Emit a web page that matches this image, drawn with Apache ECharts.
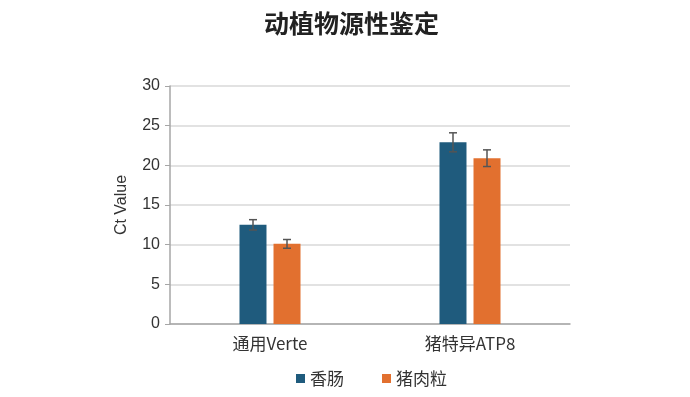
<!DOCTYPE html>
<html>
<head>
<meta charset="utf-8">
<script src="https://cdn.jsdelivr.net/npm/echarts@6/dist/echarts.min.js"></script>
<style>
html, body { margin: 0; padding: 0; background: #fff; }
#main { width: 690px; height: 397px; }
</style>
</head>
<body>
<div id="main"></div>
<script>
var categories = ['通用Verte', '猪特异ATP8'];
var seriesNames = ['香肠', '猪肉粒'];
var sausage = [12.5, 22.9];
var sausageErr = [0.65, 1.2];
var porkDice = [10.1, 20.9];
var porkDiceErr = [0.55, 1.05];
var yTicks = [0, 5, 10, 15, 20, 25, 30];

var colors = ['#1f5b7d', '#e2702f'];
var barW = 27;
var offsets = [-17, 17];

//误差线（custom series）
function errorSeries(vals, errs, idx) {
    var data = vals.map(function (v, i) { return [i, v - errs[i], v + errs[i]]; });
    return {
        type: 'custom',
        name: seriesNames[idx] + '_err',
        z: 10,
        silent: true,
        renderItem: function (params, api) {
            var lo = api.coord([api.value(0), api.value(1)]);
            var hi = api.coord([api.value(0), api.value(2)]);
            var x = lo[0] + offsets[idx];
            var cap = 4;
            var st = { stroke: '#555', lineWidth: 1.5 };
            return {
                type: 'group',
                children: [
                    { type: 'line', shape: { x1: x, y1: lo[1], x2: x, y2: hi[1] }, style: st },
                    { type: 'line', shape: { x1: x - cap, y1: lo[1], x2: x + cap, y2: lo[1] }, style: st },
                    { type: 'line', shape: { x1: x - cap, y1: hi[1], x2: x + cap, y2: hi[1] }, style: st }
                ]
            };
        },
        encode: { x: 0, y: [1, 2] },
        data: data
    };
}

var chart = echarts.init(document.getElementById('main'));
var option = {
    animation: false,
    color: colors,
    title: {
        text: '动植物源性鉴定',
        left: 259,
        top: 6,
        textStyle: {
            fontFamily: 'Noto Sans CJK SC',
            fontSize: 25,
            fontWeight: 'bold',
            color: '#222'
        }
    },
    grid: {
        left: 170,
        right: 120,
        top: 86,
        bottom: 73
    },
    legend: {
        bottom: 5,
        left: 291,
        itemWidth: 9,
        itemHeight: 9,
        itemGap: 38,
        icon: 'rect',
        data: seriesNames,
        textStyle: {
            fontFamily: 'Noto Sans CJK SC',
            fontSize: 17,
            color: '#333'
        }
    },
    xAxis: {
        type: 'category',
        data: categories,
        axisLine: { lineStyle: { color: '#a6a6a6', width: 1.5 } },
        axisTick: { show: false },
        axisLabel: {
            fontFamily: 'Noto Sans CJK SC',
            fontSize: 17,
            color: '#333',
            margin: 11
        }
    },
    yAxis: {
        type: 'value',
        min: yTicks[0],
        max: yTicks[yTicks.length - 1],
        interval: 5,
        name: 'Ct Value',
        nameLocation: 'middle',
        nameGap: 40,
        nameTextStyle: {
            fontFamily: 'Liberation Sans',
            fontSize: 16,
            color: '#333'
        },
        axisLine: { show: true, lineStyle: { color: '#a6a6a6', width: 1.5 } },
        axisTick: { show: true, length: 5, lineStyle: { color: '#a6a6a6' } },
        axisLabel: {
            fontFamily: 'Liberation Sans',
            fontSize: 16,
            color: '#333',
            margin: 10
        },
        splitLine: { lineStyle: { color: '#d9d9d9', width: 1.5 } }
    },
    series: [
        {
            name: seriesNames[0],
            type: 'bar',
            barWidth: barW,
            barGap: '26%',
            data: sausage,
            itemStyle: { color: colors[0] }
        },
        {
            name: seriesNames[1],
            type: 'bar',
            barWidth: barW,
            barGap: '26%',
            data: porkDice,
            itemStyle: { color: colors[1] }
        },
        errorSeries(sausage, sausageErr, 0),
        errorSeries(porkDice, porkDiceErr, 1)
    ]
};
chart.setOption(option);
</script>
</body>
</html>
